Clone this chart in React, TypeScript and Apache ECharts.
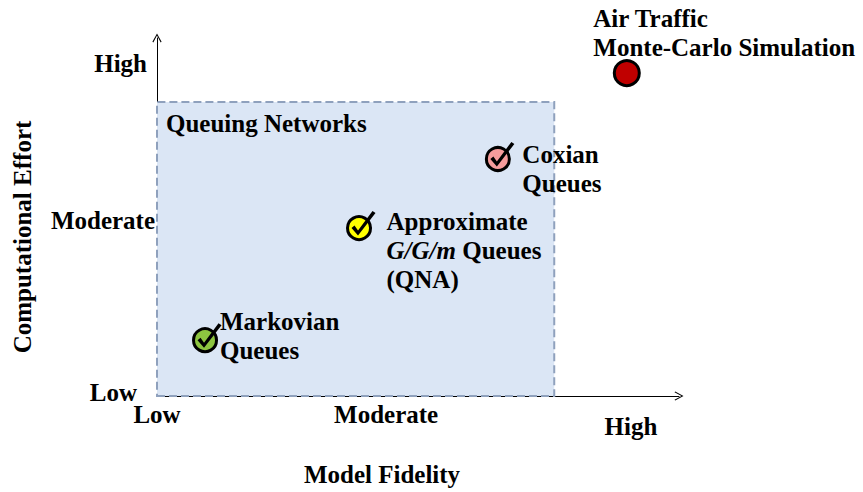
import React, { useEffect, useRef } from "react";
import * as echarts from "echarts";

// ---- data ----
const pointNames = ["Markovian", "Approximate", "Coxian", "Air Traffic"];
const pointLabels = [
  "Markovian\nQueues",
  "Approximate\n{i|G/G/m} Queues\n(QNA)",
  "Coxian\nQueues",
  "Air Traffic\nMonte-Carlo Simulation",
];
const modelFidelity = [9.2, 38.7, 65.3, 90.0];
const computationalEffort = [15.6, 46.9, 66.2, 90.2];
const hasCheck = [true, true, true, false];

const xTickValues = [0, 43.9, 90.8];
const xTickLabels = ["Low", "Moderate", "High"];
const yTickValues = [1, 48.9, 93];
const yTickLabels = ["Low", "Moderate", "High"];

const regionName = "Queuing Networks";
const regionFidelity = [0, 76.1];
const regionEffort = [0, 82.1];

// ---- styles ----
const FONT = '"Liberation Serif", "Times New Roman", serif';
const FS = 25;
const pointColors = ["#8dc540", "#ffff00", "#f59c9c", "#c00000"];
const pointSizes = [23, 23, 23, 25];
const labelOffsets: [number, number][] = [
  [2, -4],
  [14.5, 22],
  [11.5, 10],
  [-47.5, -40.5],
];
const yLabelPad = [18, 0, 8];
const xLabelPadTop = [0, 0, 12];

const CHECK_PATH =
  "path://M-7.5,0 L-1,7.5 L16.5,-15 L13.5,-17 L-1,2.5 L-4.5,-2.5 Z";

const textBase = {
  fontFamily: FONT,
  fontWeight: "bold" as const,
  fontSize: FS,
  color: "#000",
};

export default function App() {
  const ref = useRef<HTMLDivElement>(null);
  useEffect(() => {
    if (!ref.current) return;
    const chart = echarts.init(ref.current, null, { renderer: "svg" });

    const yRich: Record<string, any> = {};
    yTickLabels.forEach((_, i) => {
      yRich["y" + i] = { ...textBase, padding: [0, yLabelPad[i], 0, 0] };
    });
    const xRich: Record<string, any> = {};
    xTickLabels.forEach((_, i) => {
      xRich["x" + i] = { ...textBase, padding: [xLabelPadTop[i], 0, 0, 0] };
    });

    const arrowSymbol = "path://M5,0 L10,9 L9,9.8 L5,2.2 L1,9.8 L0,9 Z";

    const circleData = pointNames.map((name, i) => ({
      name,
      value: [modelFidelity[i], computationalEffort[i]],
      symbolSize: pointSizes[i],
      itemStyle: {
        color: pointColors[i],
        borderColor: "#000",
        borderWidth: 3,
        opacity: 1,
      },
      label: {
        show: true,
        position: "right",
        distance: 0,
        offset: labelOffsets[i],
        formatter: pointLabels[i],
        align: "left",
        verticalAlign: "middle",
        ...textBase,
        lineHeight: 29,
        rich: {
          i: { ...textBase, fontStyle: "italic", lineHeight: 29 },
        },
      },
    }));

    const checkData = pointNames
      .map((name, i) => ({ name, value: [modelFidelity[i], computationalEffort[i]], i }))
      .filter((d) => hasCheck[d.i])
      .map((d) => ({ name: d.name, value: d.value }));

    chart.setOption({
      animation: false,
      backgroundColor: "#fff",
      grid: { left: 157, right: 184, top: 38, bottom: 96, containLabel: false },
      xAxis: {
        type: "value",
        min: 0,
        max: 100,
        name: "Model Fidelity",
        nameLocation: "middle",
        nameGap: 66,
        nameTextStyle: { ...textBase, padding: [0, 72, 0, 0] },
        axisLine: {
          show: true,
          lineStyle: { color: "#000", width: 1 },
          symbol: ["none", arrowSymbol],
          symbolSize: [10, 9],
        },
        axisTick: { show: false },
        splitLine: { show: false },
        axisLabel: {
          show: true,
          customValues: xTickValues,
          margin: 6,
          formatter: (v: number) => {
            const i = xTickValues.indexOf(v);
            return i >= 0 ? `{x${i}|${xTickLabels[i]}}` : "";
          },
          rich: xRich,
          ...textBase,
        },
      },
      yAxis: {
        type: "value",
        min: 0,
        max: 100,
        name: "Computational Effort",
        nameLocation: "middle",
        nameRotate: 90,
        nameGap: 122,
        nameTextStyle: { ...textBase, padding: [0, 40, 0, 0] },
        axisLine: {
          show: true,
          lineStyle: { color: "#000", width: 1 },
          symbol: ["none", arrowSymbol],
          symbolSize: [10, 9],
        },
        axisTick: { show: false },
        splitLine: { show: false },
        axisLabel: {
          show: true,
          customValues: yTickValues,
          margin: 2,
          formatter: (v: number) => {
            const i = yTickValues.indexOf(v);
            return i >= 0 ? `{y${i}|${yTickLabels[i]}}` : "";
          },
          rich: yRich,
          ...textBase,
        },
      },
      series: [
        {
          type: "scatter",
          name: "points",
          symbol: "circle",
          z: 3,
          itemStyle: { opacity: 1 },
          data: circleData,
          markArea: {
            silent: true,
            z: 1,
            itemStyle: {
              color: "#dbe6f5",
              borderColor: "#8fa1bd",
              borderWidth: 2,
              borderType: [8, 4],
              opacity: 1,
            },
            label: {
              show: true,
              position: "insideTopLeft",
              distance: 10,
              ...textBase,
            },
            data: [
              [
                { name: regionName, coord: [regionFidelity[0], regionEffort[0]] },
                { coord: [regionFidelity[1], regionEffort[1]] },
              ],
            ],
          },
        },
        {
          type: "scatter",
          name: "checks",
          z: 4,
          symbol: CHECK_PATH,
          symbolSize: [24, 24.5],
          symbolOffset: [4.5, -4.75],
          itemStyle: { color: "#000", opacity: 1 },
          data: checkData,
        },
      ],
    });
    return () => chart.dispose();
  }, []);
  return (
    <div
      ref={ref}
      style={{ position: "fixed", left: 0, top: 0, width: 863, height: 492 }}
    />
  );
}
